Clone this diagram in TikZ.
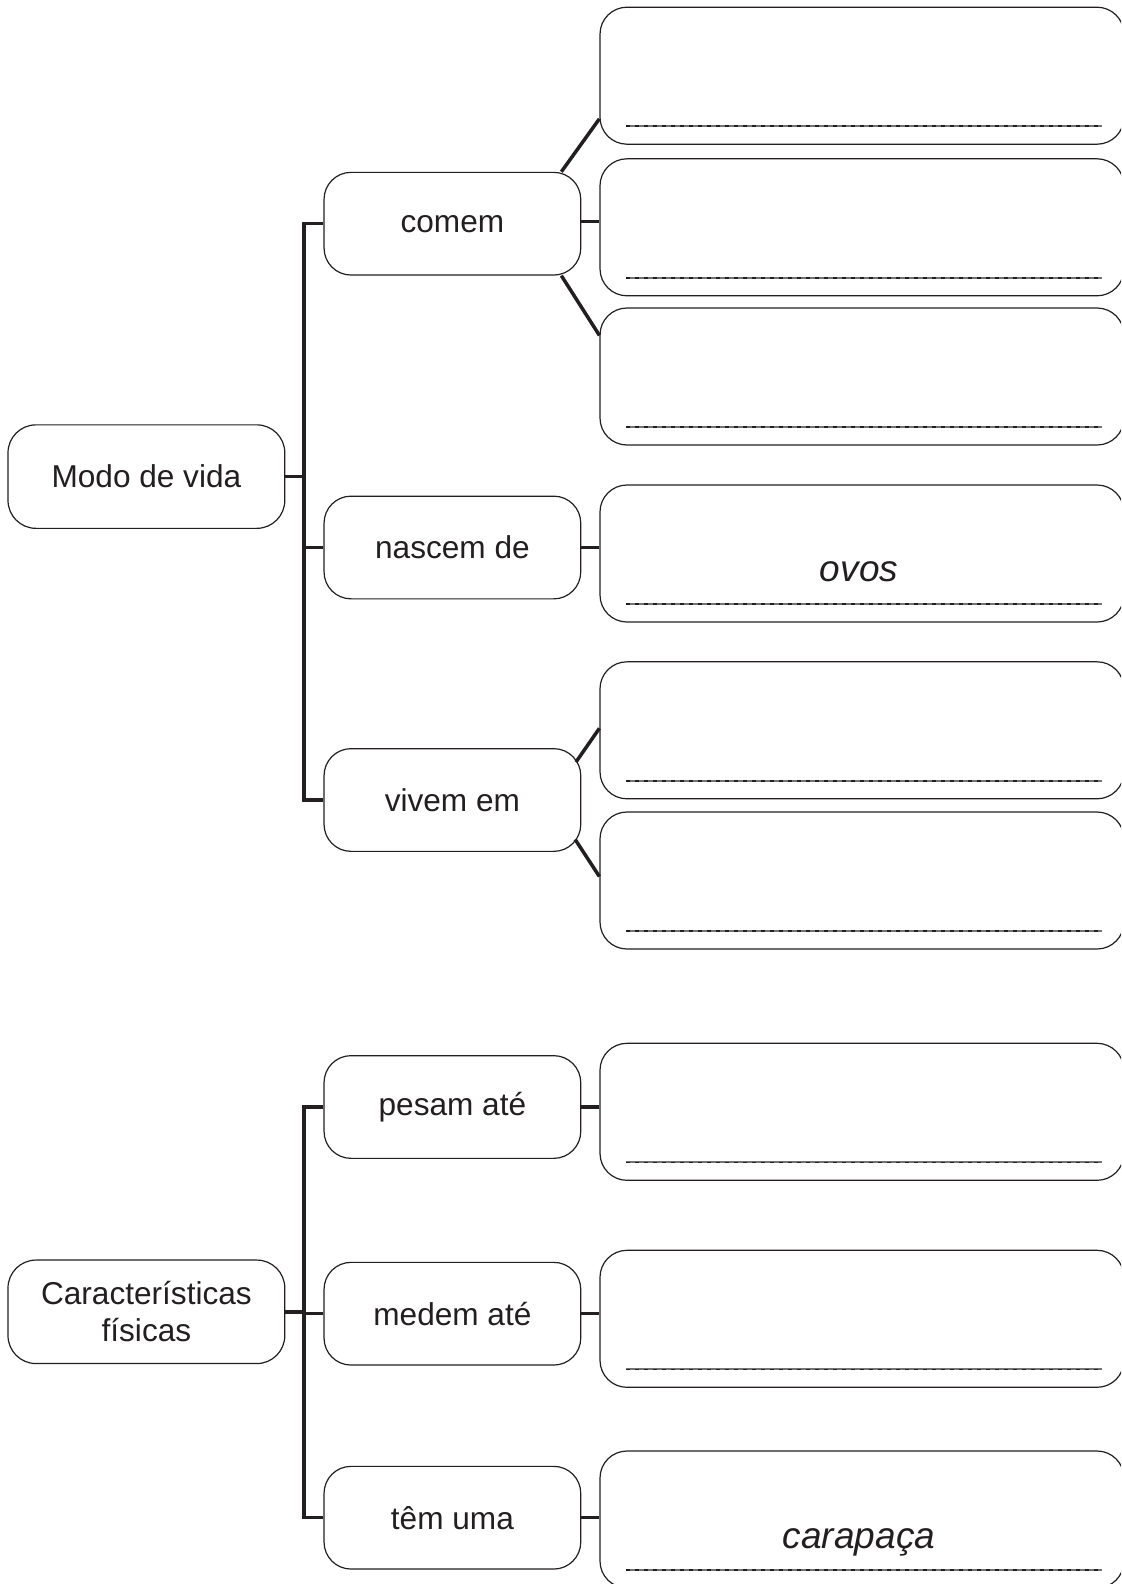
\documentclass[tikz,border=0pt]{standalone}
\usepackage{fontspec}
\setmainfont{Liberation Sans}
\usetikzlibrary{calc}
\newcommand\fsA{\fontsize{15.8pt}{18.7pt}\selectfont}
\newcommand\fsB{\fontsize{18.5pt}{22pt}\selectfont\itshape}
\definecolor{ink}{HTML}{231F20}
\tikzset{
  lbox/.style={draw=ink, rounded corners=14pt, line width=0.6pt, fill=white,
    minimum width=138.4pt, minimum height=51.75pt, inner sep=0pt, align=center,
    font=\fsA, text=ink},
  mbox/.style={draw=ink, rounded corners=13.5pt, line width=0.6pt, fill=white,
    minimum width=128.35pt, minimum height=51.35pt, inner sep=0pt, align=center,
    font=\fsA, text=ink},
  rbox/.style={draw=ink, rounded corners=13.5pt, line width=0.6pt,
    minimum width=262pt, minimum height=68.5pt, inner sep=0pt},
  conn/.style={draw=ink, line width=1.75pt, line join=miter},
  wlinebase/.style={draw=black!55, line width=1pt},
  wlinedash/.style={draw=ink, line width=0.7pt, dash pattern=on 2pt off 2.5pt},
  answer/.style={font=\fsB, text=ink, anchor=base, inner sep=0pt}
}
\begin{document}
\begin{tikzpicture}[x=0.5pt,y=-0.5pt]
\clip (0,0) rectangle (1121,1584);
\fill[white] (0,0) rectangle (1121,1584);

% left boxes
\node[lbox] (modo) at (146.4,476.6) {Modo de vida};
\node[lbox] (carac) at (146.4,1311.8) {Características\\físicas};

% middle boxes
\node[mbox] (comem)  at (452.4,223.7) {comem};
\node[mbox] (nascem) at (452.4,547.5) {nascem de};
\node[mbox] (vivem)  at (452.4,800)   {vivem em};
\node[mbox] (pesam)  at (452.4,1107)  {pesam até};
\node[mbox] (medem)  at (452.4,1313.7) {medem até};
\node[mbox] (tem)    at (452.4,1517.7) {têm uma};

% right boxes
\foreach \n/\y in {b1/75.7, b2/227.3, b3/376.5, b4/553.5, b5/730.3, b6/880.5, b7/1111.8, b8/1318.8, b9/1519.5} {
  \node[rbox] (\n) at (862,\y) {};
  \draw[wlinebase] ($(\n.center)+(-236,50.5)$) -- ($(\n.center)+(240,50.5)$);
  \draw[wlinedash] ($(\n.center)+(-236,50.5)$) -- ($(\n.center)+(240,50.5)$);
}

\node[answer] (ovos) at ($(b4.center)+(-3,28)$) {ovos};
\node[answer] (carapaca) at ($(b9.center)+(-3,29)$) {carapaça};

% trunks
\coordinate (j1) at (304,0);
\coordinate (j2) at (304,0);
\draw[conn] (comem.west) -- (comem.west -| j1) |- (vivem.west);
\draw[conn] (nascem.west) -- (nascem.west -| j1);
\draw[conn] (modo.east) -- (modo.east -| j1);

\draw[conn] (pesam.west) -- (pesam.west -| j2) |- (tem.west);
\draw[conn] (medem.west) -- (medem.west -| j2);
\draw[conn] (carac.east) -- (carac.east -| j2);

% to right boxes
\draw[conn] ($(comem.north east)+(-20,0)$) -- ($(b1.south west)+(0,-26)$);
\draw[conn] ($(comem.east)+(0,-2)$) -- ($(comem.east -| b2.west)+(0,-2)$);
\draw[conn] ($(comem.south east)+(-20,0)$) -- ($(b3.north west)+(0,28)$);
\draw[conn] (nascem.east) -- (nascem.east -| b4.west);
\draw[conn] ($(vivem.north east)+(-5.4,14)$) -- ($(b5.west)+(0,-2)$);
\draw[conn] ($(vivem.south east)+(-6.2,-12.5)$) -- ($(b6.west)+(0,-4)$);
\draw[conn] (pesam.east) -- (pesam.east -| b7.west);
\draw[conn] (medem.east) -- (medem.east -| b8.west);
\draw[conn] (tem.east) -- (tem.east -| b9.west);
\end{tikzpicture}
\end{document}
